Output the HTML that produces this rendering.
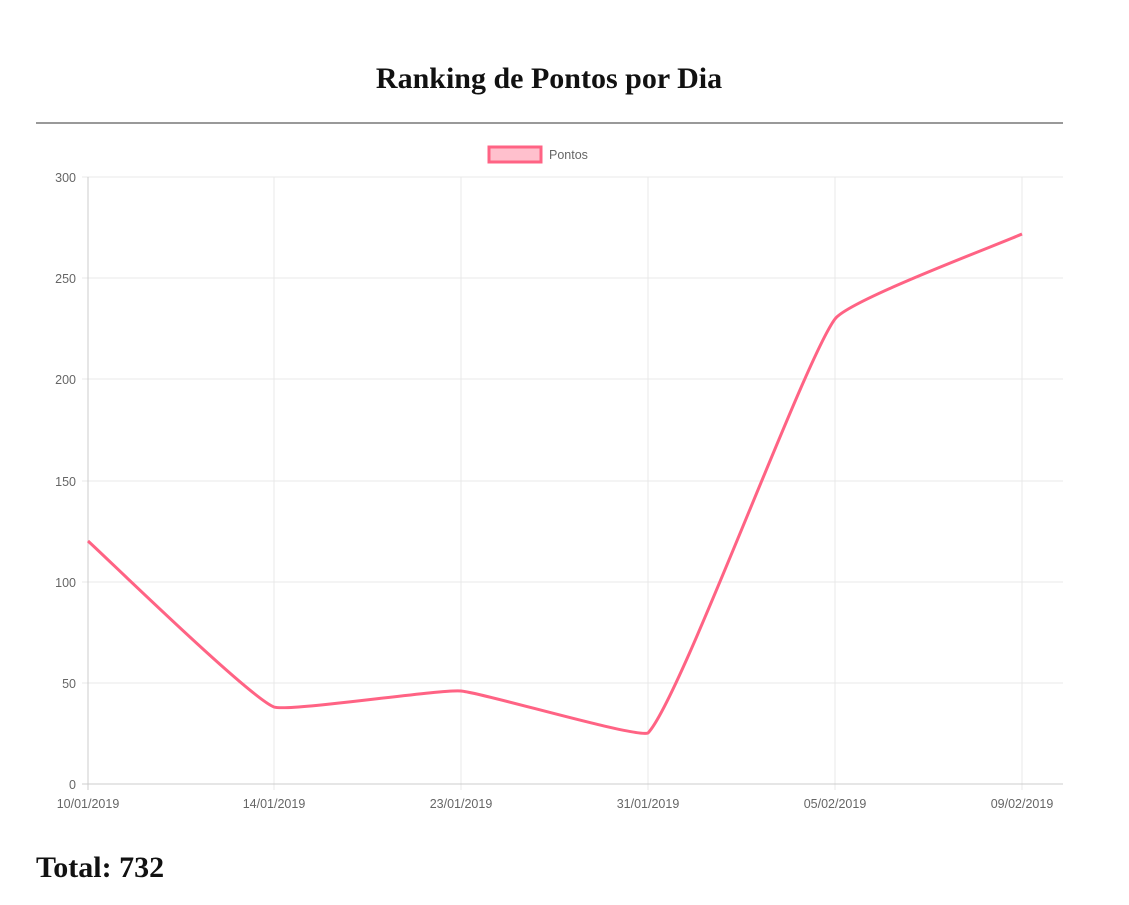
<!DOCTYPE html>
<html><head><meta charset="utf-8"><style>
body{margin:0;background:#fff;width:1129px;height:900px;overflow:hidden}
</style></head><body>
<svg width="1129" height="900" xmlns="http://www.w3.org/2000/svg" font-family="Liberation Sans, sans-serif">
<text x="549" y="88" text-anchor="middle" font-family="Liberation Serif, serif" font-weight="bold" font-size="30" fill="#111">Ranking de Pontos por Dia</text>
<line x1="36" y1="123" x2="1063" y2="123" stroke="#999" stroke-width="2"/>
<rect x="489" y="147" width="52" height="15" fill="#ffc0cd" stroke="#ff6384" stroke-width="3"/>
<text x="549" y="159" font-size="12.5" fill="#666">Pontos</text>
<g stroke="#e8e8e8" stroke-width="1">
<line x1="82" y1="177" x2="1063" y2="177"/><line x1="82" y1="278" x2="1063" y2="278"/>
<line x1="82" y1="379" x2="1063" y2="379"/><line x1="82" y1="481" x2="1063" y2="481"/>
<line x1="82" y1="582" x2="1063" y2="582"/><line x1="82" y1="683" x2="1063" y2="683"/>
<line x1="274" y1="177" x2="274" y2="790"/><line x1="461" y1="177" x2="461" y2="790"/>
<line x1="648" y1="177" x2="648" y2="790"/><line x1="835" y1="177" x2="835" y2="790"/>
<line x1="1022" y1="177" x2="1022" y2="790"/>
</g>
<line x1="88" y1="177" x2="88" y2="790" stroke="#ccc"/>
<line x1="82" y1="784" x2="1063" y2="784" stroke="#ccc"/>
<g font-size="12.5" fill="#666" text-anchor="end">
<text x="76" y="182">300</text><text x="76" y="283">250</text><text x="76" y="384">200</text>
<text x="76" y="486">150</text><text x="76" y="587">100</text><text x="76" y="688">50</text><text x="76" y="789">0</text>
</g>
<g font-size="12.5" fill="#666" text-anchor="middle">
<text x="88" y="808">10/01/2019</text><text x="274" y="808">14/01/2019</text><text x="461" y="808">23/01/2019</text>
<text x="648" y="808">31/01/2019</text><text x="835" y="808">05/02/2019</text><text x="1022" y="808">09/02/2019</text>
</g>
<path d="M88,541 C110,561 249,697 274,707 C290,712 439,689 461,691 C484,693 635,738 648,733 C680,700 804,360 835,319 C849,300 1000,244 1022,234" fill="none" stroke="#ff6384" stroke-width="3"/>
<text x="36" y="877" font-family="Liberation Serif, serif" font-weight="bold" font-size="30" fill="#111">Total: 732</text>
</svg>
</body></html>
